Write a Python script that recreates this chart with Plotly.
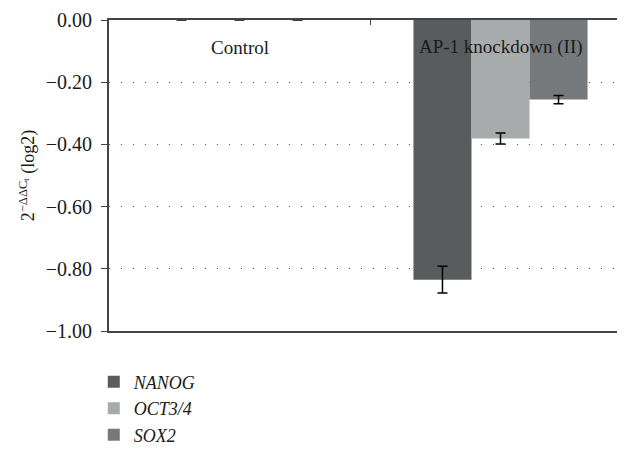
import plotly.graph_objects as go

categories = ["Control", "AP-1 knockdown (II)"]
genes = ["NANOG", "OCT3/4", "SOX2"]
nanog = [0.0, -0.835]
oct34 = [0.0, -0.381]
sox2 = [0.0, -0.256]
nanog_err = [0.0, 0.043]
oct34_err = [0.0, 0.018]
sox2_err = [0.0, 0.013]
colors = ["#585c5c", "#a8abab", "#76797b"]
yticks = [0.0, -0.2, -0.4, -0.6, -0.8, -1.0]
yticklabels = ["0.00", "−0.20", "−0.40", "−0.60", "−0.80", "−1.00"]

serif = "Liberation Serif, DejaVu Serif, serif"
txt = "#1a1a1a"

fig = go.Figure()
for name, vals, errs, col in zip(genes, [nanog, oct34, sox2], [nanog_err, oct34_err, sox2_err], colors):
    fig.add_trace(go.Bar(
        x=[0, 1], y=vals, name=f"<i>{name}</i>",
        marker=dict(color=col, line=dict(width=0)),
        error_y=dict(type="data", array=errs, visible=True, color="black",
                     thickness=1.5, width=5),
    ))

for i, c in enumerate(categories):
    fig.add_annotation(x=i, y=-0.087, text=c, showarrow=False, xref="x", yref="y",
                       font=dict(family=serif, size=19, color=txt))

fig.update_layout(
    width=617, height=441,
    margin=dict(l=101, r=0, t=12, b=118, autoexpand=False),
    paper_bgcolor="white", plot_bgcolor="white",
    barmode="group", bargap=0.333, bargroupgap=0,
    font=dict(family=serif, size=19, color=txt),
    showlegend=True,
    legend=dict(x=-0.0295, y=-0.105, xanchor="left", yanchor="top",
                font=dict(family=serif, size=18, color=txt),
                tracegroupgap=0, itemwidth=30),
    xaxis=dict(range=[-0.5, 1.477], side="top", showline=True, linecolor="#444",
               linewidth=2, mirror=True, tickmode="array", tickvals=[0.5],
               ticks="inside", ticklen=5, tickcolor="#444", showticklabels=False,
               showgrid=False, zeroline=False, fixedrange=True, automargin=False),
    yaxis=dict(range=[-1.0, 0.0], tickmode="array", tickvals=yticks,
               ticktext=yticklabels, ticks="outside", ticklen=6, tickcolor="#444",
               ticklabelstandoff=5,
               showline=True, linecolor="#444", linewidth=2, automargin=False,
               showgrid=True, gridcolor="#555", gridwidth=1, griddash="1px,11px",
               zeroline=False,
               title=dict(text="2<sup>−ΔΔC<sub>t</sub></sup> (log2)", standoff=6,
                          font=dict(family=serif, size=18, color=txt)),
               tickfont=dict(family=serif, size=20, color=txt)),
)

fig.write_html("out.html")
